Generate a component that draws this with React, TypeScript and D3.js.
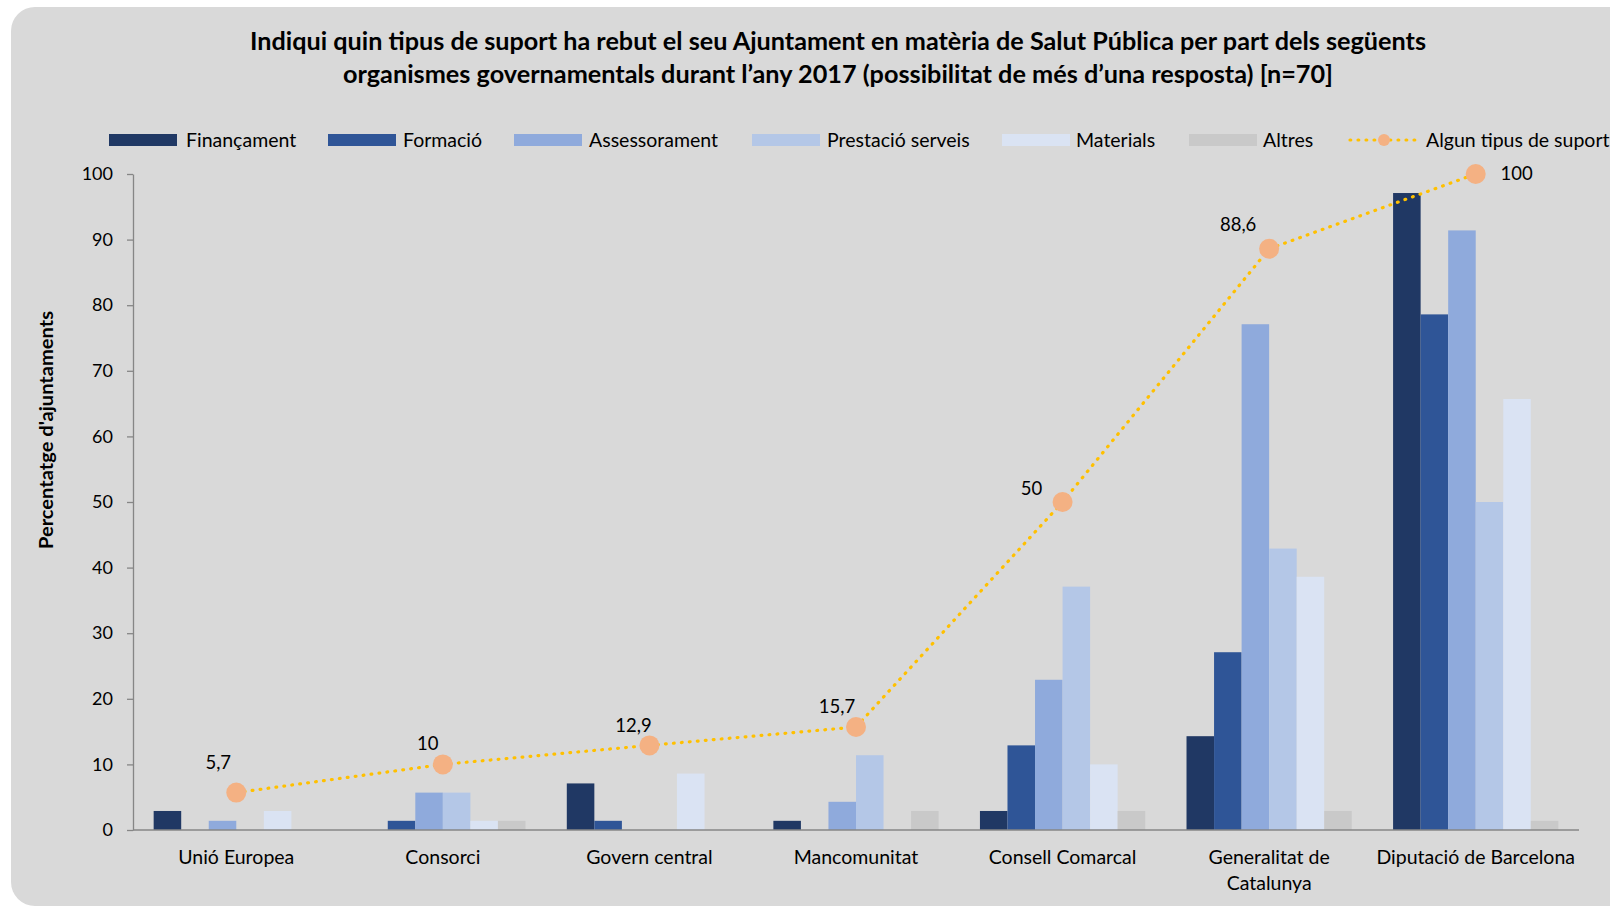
import React, { useEffect, useRef } from 'react'
import * as d3 from 'd3'

// data
const categories = [
  'Unió Europea',
  'Consorci',
  'Govern central',
  'Mancomunitat',
  'Consell Comarcal',
  'Generalitat de\nCatalunya',
  'Diputació de Barcelona',
]
const seriesNames = ['Finançament', 'Formació', 'Assessorament', 'Prestació serveis', 'Materials', 'Altres']
const financament = [2.9, 0, 7.1, 1.4, 2.9, 14.3, 97.1]
const formacio = [0, 1.4, 1.4, 0, 12.9, 27.1, 78.6]
const assessorament = [1.4, 5.7, 0, 4.3, 22.9, 77.1, 91.4]
const prestacio = [0, 5.7, 0, 11.4, 37.1, 42.9, 50]
const materials = [2.9, 1.4, 8.6, 0, 10, 38.6, 65.7]
const altres = [0, 1.4, 0, 2.9, 2.9, 2.9, 1.4]
const lineName = 'Algun tipus de suport'
const algunTipus = [5.7, 10, 12.9, 15.7, 50, 88.6, 100]
const yTicks = [0, 10, 20, 30, 40, 50, 60, 70, 80, 90, 100]
const titleLines = [
  'Indiqui quin tipus de suport ha rebut el seu Ajuntament en matèria de Salut Pública per part dels següents',
  'organismes governamentals durant l’any 2017 (possibilitat de més d’una resposta) [n=70]',
]
const yTitle = "Percentatge d'ajuntaments"

const colors = ['#203864', '#2F5597', '#8FAADC', '#B4C7E7', '#DAE3F3', '#C9C9C9']
const lineColor = '#FFC000'
const markerColor = '#F4B183'
const font = 'Lato, "Open Sans", sans-serif'

// where each data label sits relative to its marker
const labelOffsets = [[-18, -30], [-15, -21], [-16, -20], [-19, -20], [-31, -13], [-31, -24], [41, 0]]
// legend item positions: [swatch x, text x]
const legendX = [[109, 186], [328, 403], [514, 589], [752, 827], [1002, 1076], [1189, 1263], [1350, 1426]]

const W = 1610
const H = 908

export default function App() {
  const ref = useRef<SVGSVGElement>(null)

  useEffect(() => {
    document.body.style.margin = '0'
    const svg = d3.select(ref.current)
    svg.selectAll('*').remove()

    const series = [financament, formacio, assessorament, prestacio, materials, altres]

    // background panel
    svg.append('rect')
      .attr('x', 11).attr('y', 7)
      .attr('width', W + 40).attr('height', 899)
      .attr('rx', 24)
      .attr('fill', '#D9D9D9')

    // title
    svg.append('g').selectAll('text')
      .data(titleLines)
      .join('text')
      .attr('x', 838)
      .attr('y', (d, i) => 50 + i * 33)
      .attr('text-anchor', 'middle')
      .attr('textLength', (d, i) => (i === 0 ? 1176 : 990))
      .attr('lengthAdjust', 'spacingAndGlyphs')
      .style('font-family', font)
      .style('font-weight', 700)
      .style('font-size', '24px')
      .style('fill', '#000')
      .text(d => d)

    const x = d3.scaleBand<string>().domain(categories).range([133, 1579])
    const xs = d3.scaleBand<string>().domain(seriesNames).range([0, x.bandwidth()]).paddingOuter(0.75)
    const y = d3.scaleLinear().domain([0, 100]).range([830, 174])

    // bars
    const groups = svg.append('g').selectAll('g')
      .data(categories)
      .join('g')
      .attr('transform', d => `translate(${x(d)},0)`)

    groups.selectAll('rect')
      .data((d, ci) => seriesNames.map((s, si) => ({ s, si, v: series[si][ci] })))
      .join('rect')
      .attr('x', d => xs(d.s) as number)
      .attr('y', d => y(d.v))
      .attr('width', xs.bandwidth())
      .attr('height', d => y(0) - y(d.v))
      .attr('fill', d => colors[d.si])

    // y axis
    const yAxis = svg.append('g')
      .attr('transform', 'translate(133,0)')
      .call(d3.axisLeft(y).tickValues(yTicks).tickSize(6).tickPadding(14).tickSizeOuter(0))
    yAxis.select('.domain').attr('stroke', '#868686').attr('stroke-width', 1.3)
    yAxis.selectAll('line').attr('stroke', '#868686').attr('stroke-width', 1.3)
    yAxis.selectAll('text')
      .style('font-family', font)
      .style('font-size', '18px')
      .style('fill', '#000')

    // x axis line
    svg.append('line')
      .attr('x1', 133).attr('x2', 1579)
      .attr('y1', y(0)).attr('y2', y(0))
      .attr('stroke', '#868686')
      .attr('stroke-width', 1.5)

    // category labels
    svg.append('g').selectAll('text')
      .data(categories)
      .join('text')
      .attr('x', d => (x(d) as number) + x.bandwidth() / 2)
      .attr('y', 864)
      .attr('text-anchor', 'middle')
      .style('font-family', font)
      .style('font-size', '19.5px')
      .style('fill', '#000')
      .each(function (d) {
        const t = d3.select(this)
        d.split('\n').forEach((line, i) => {
          t.append('tspan')
            .attr('x', (x(d) as number) + x.bandwidth() / 2)
            .attr('dy', i === 0 ? 0 : 26)
            .text(line)
        })
      })

    // y axis title
    svg.append('text')
      .attr('transform', 'translate(53,430) rotate(-90)')
      .attr('text-anchor', 'middle')
      .attr('textLength', 238)
      .attr('lengthAdjust', 'spacingAndGlyphs')
      .style('font-family', font)
      .style('font-weight', 700)
      .style('font-size', '18.5px')
      .style('fill', '#000')
      .text(yTitle)

    // line series
    const cx = (i: number) => (x(categories[i]) as number) + x.bandwidth() / 2
    const line = d3.line<number>()
      .x((d, i) => cx(i))
      .y(d => y(d))

    svg.append('path')
      .datum(algunTipus)
      .attr('d', line)
      .attr('fill', 'none')
      .attr('stroke', lineColor)
      .attr('stroke-width', 3.2)
      .attr('stroke-linecap', 'round')
      .attr('stroke-dasharray', '0.8 7.2')

    svg.append('g').selectAll('circle')
      .data(algunTipus)
      .join('circle')
      .attr('cx', (d, i) => cx(i))
      .attr('cy', d => y(d))
      .attr('r', 10)
      .attr('fill', markerColor)

    svg.append('g').selectAll('text')
      .data(algunTipus)
      .join('text')
      .attr('x', (d, i) => cx(i) + labelOffsets[i][0])
      .attr('y', (d, i) => y(d) + labelOffsets[i][1])
      .attr('dy', '0.35em')
      .attr('text-anchor', 'middle')
      .style('font-family', font)
      .style('font-size', '18.5px')
      .style('fill', '#000')
      .text(d => String(d).replace('.', ','))

    // legend
    const legend = svg.append('g')
    const ly = 140
    seriesNames.forEach((name, i) => {
      legend.append('rect')
        .attr('x', legendX[i][0]).attr('y', ly - 6)
        .attr('width', 68).attr('height', 12)
        .attr('fill', colors[i])
      legend.append('text')
        .attr('x', legendX[i][1]).attr('y', ly)
        .attr('dy', '0.35em')
        .style('font-family', font)
        .style('font-size', '19.5px')
        .style('fill', '#000')
        .text(name)
    })
    const li = legendX[6]
    legend.append('line')
      .attr('x1', li[0]).attr('x2', li[0] + 66)
      .attr('y1', ly).attr('y2', ly)
      .attr('stroke', lineColor)
      .attr('stroke-width', 3.2)
      .attr('stroke-linecap', 'round')
      .attr('stroke-dasharray', '0.8 7.2')
    legend.append('circle')
      .attr('cx', li[0] + 34).attr('cy', ly)
      .attr('r', 6)
      .attr('fill', markerColor)
    legend.append('text')
      .attr('x', li[1]).attr('y', ly)
      .attr('dy', '0.35em')
      .style('font-family', font)
      .style('font-size', '19.5px')
      .style('fill', '#000')
      .text(lineName)
  }, [])

  return (
    <svg
      ref={ref}
      width={W}
      height={H}
      style={{ position: 'absolute', left: 0, top: 0, background: '#fff', display: 'block' }}
    />
  )
}
